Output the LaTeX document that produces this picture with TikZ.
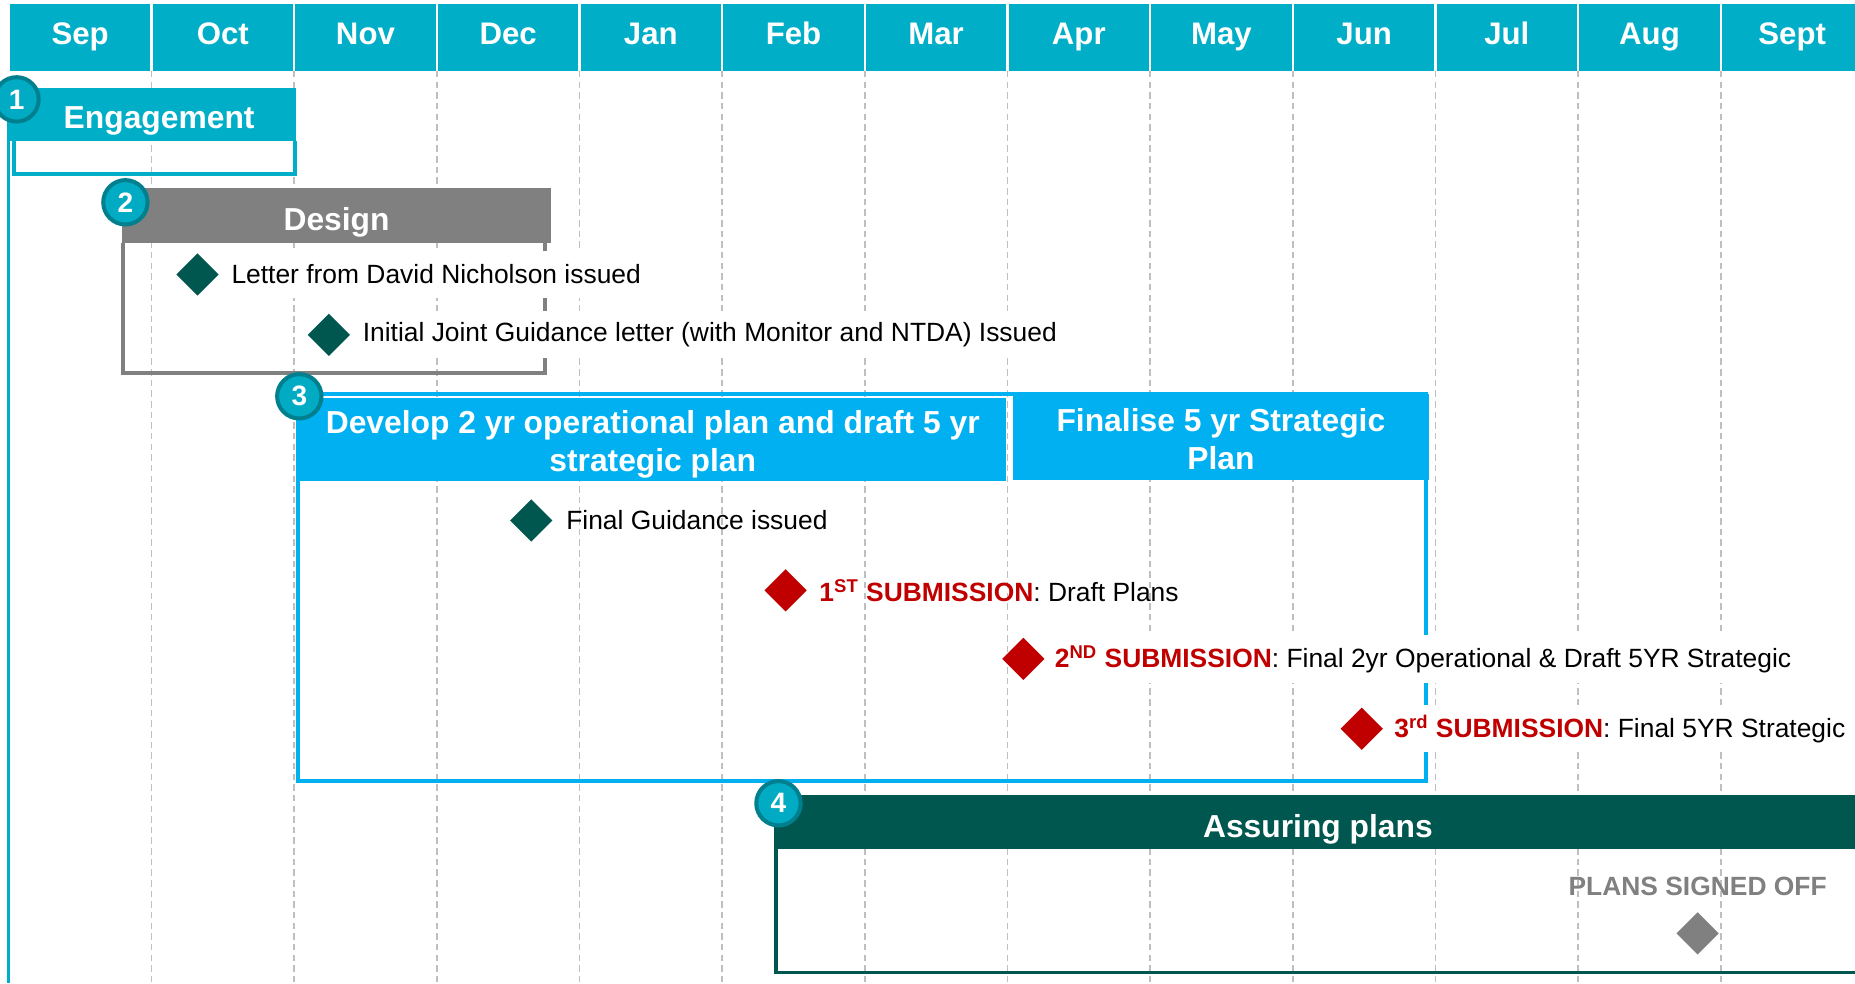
\documentclass[tikz,border=0pt]{standalone}
\usepackage{fontspec}
\setmainfont{Liberation Sans}
\usetikzlibrary{positioning,fit,shapes.geometric}

\definecolor{headteal}{HTML}{00AFC7}
\definecolor{badgeteal}{HTML}{00ABC3}
\definecolor{ringteal}{HTML}{00808F}
\definecolor{skyblue}{HTML}{00B0F0}
\definecolor{pine}{HTML}{00574F}
\definecolor{subred}{HTML}{C00000}
\definecolor{midgray}{HTML}{808080}
\definecolor{gridgray}{HTML}{BFBFBF}

\newcommand{\redtag}[1]{\textcolor{subred}{\bfseries #1}}

\begin{document}
\begin{tikzpicture}[x=0.02cm, y=0.02cm,
	month/.style={fill=headteal, text=white, minimum width=2.372cm, minimum height=1.14cm, inner sep=0, text height=0.38cm, text depth=0.14cm, font=\fontsize{15}{18}\selectfont\bfseries},
	gridline/.style={gridgray, line width=0.028cm, dash pattern=on 0.11cm off 0.07cm},
	phasebar/.style={inner sep=0, fill=#1},
	phasetext/.style={inner sep=0, text=white, align=center, font=\fontsize{15.3}{18.2}\selectfont\bfseries},
	boxline/.style={draw=#1, line width=0.065cm},
	badge/.style={circle, fill=badgeteal, draw=ringteal, line width=0.068cm, minimum size=0.75cm, inner sep=0, text=white, font=\fontsize{13.5}{15}\selectfont\bfseries},
	milestone/.style={diamond, fill=#1, minimum width=0.72cm, minimum height=0.72cm, inner sep=0},
	note/.style={inner xsep=0.04cm, inner ysep=0, minimum height=0.8cm, font=\fontsize{12.7}{15}\selectfont}]
	\useasboundingbox (0,0) rectangle (1568,-831);
	% months
	\foreach \m [count=\i from 0] in {Sep,Oct,Nov,Dec,Jan,Feb,Mar,Apr,May,Jun,Jul,Aug,Sept}
		\node [month] (m\i) at ({67.7+120.6*\i},-31.5) {\m};
	\foreach \i in {1,...,12}
		\draw [gridline] ({7.4+120.6*\i},-60) -- ({7.4+120.6*\i},-831);

	% 1 engagement
	\node [phasebar=headteal, fit={(6,-74) (250,-119)}] (engage) {};
	\node [phasetext, text height=0.5cm, text depth=0cm, xshift=0.13cm] (engagetxt) at (engage) {Engagement};
	\draw [boxline=headteal] (12,-119) |- (249,-147) -- (249,-119);
	\draw [headteal, line width=0.05cm] (7,-119) -- (7,-831);

	% 2 design
	\node [phasebar=midgray, fit={(103,-159) (466,-205)}] (design) {};
	\node [phasetext, text height=0.5cm, text depth=0cm] (designtxt) at (design) {Design};
	\draw [boxline=midgray] (104,-205) |- (461,-315) -- (461,-205);

	% 3 develop / finalise
	\draw [boxline=skyblue] (252,-333) rectangle (1205,-660);
	\node [phasebar=skyblue, fit={(253.5,-336) (850,-407)}] (develop) {};
	\node [phasetext, yshift=-0.08cm] (developtxt) at (develop) {Develop 2 yr operational plan and draft 5 yr\\strategic plan};
	\node [phasebar=skyblue, fit={(856,-333) (1208,-406)}] (finalise) {};
	\node [phasetext, yshift=-0.04cm] (finalisetxt) at (finalise) {Finalise 5 yr Strategic\\Plan};

	% 4 assuring
	\node [phasebar=pine, fit={(654,-672) (1575,-718)}] (assure) {};
	\node [phasetext, text height=0.5cm, text depth=0cm] (assuretxt) at (1114,-695) {Assuring plans};
	\draw [boxline=pine] (656,-718) |- (1575,-822);

	% milestones
	\node [milestone=pine] (letter) at (167,-232) {};
	\node [note, fill=white, right=0.16cm of letter] (letterlbl) {Letter from David Nicholson issued};
	\node [milestone=pine] (initial) at (278,-283) {};
	\node [note, fill=white, right=0.16cm of initial] (initiallbl) {Initial Joint Guidance letter (with Monitor and NTDA) Issued};
	\node [milestone=pine] (guidance) at (449,-440) {};
	\node [note, right=0.18cm of guidance] (guidancelbl) {Final Guidance issued};
	\node [milestone=subred] (sub1) at (664,-499) {};
	\node [note, right=0.16cm of sub1] (sub1lbl) {\redtag{1\textsuperscript{ST} SUBMISSION}: Draft Plans};
	\node [milestone=subred] (sub2) at (865,-557) {};
	\node [note, fill=white, right=0.12cm of sub2] (sub2lbl) {\redtag{2\textsuperscript{ND} SUBMISSION}: Final 2yr Operational \& Draft 5YR Strategic};
	\node [milestone=subred] (sub3) at (1151,-616) {};
	\node [note, fill=white, right=0.14cm of sub3] (sub3lbl) {\redtag{3\textsuperscript{rd} SUBMISSION}: Final 5YR Strategic};
	\node [milestone=midgray] (signoff) at (1435,-789) {};
	\node [above=0.27cm of signoff, inner sep=0, text=midgray, font=\fontsize{12.7}{15}\selectfont\bfseries] (signofflbl) {PLANS SIGNED OFF};

	% badges
	\node [badge] (b1) at (14,-84) {1};
	\node [badge] (b2) at (106,-171) {2};
	\node [badge] (b3) at (253,-335) {3};
	\node [badge] (b4) at (658,-679) {4};
\end{tikzpicture}
\end{document}
